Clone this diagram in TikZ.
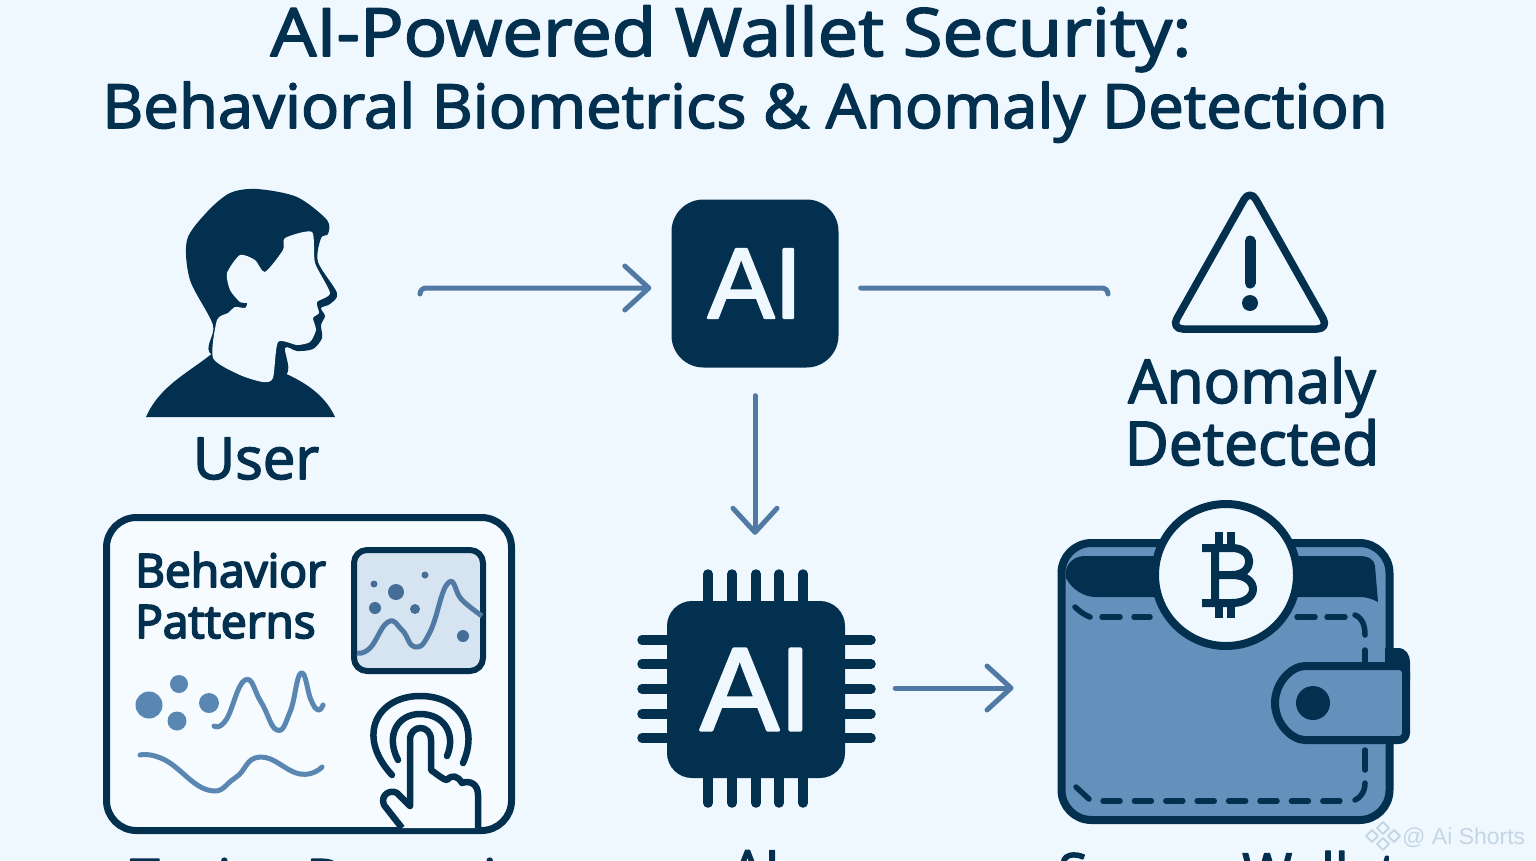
\documentclass[tikz,border=0pt]{standalone}
\usepackage{xcolor}
\usepackage{fontspec}
\usepackage{tikz}
\usetikzlibrary{arrows.meta, positioning}
\setmainfont[FakeBold=2.6]{Open Sans}
\newfontfamily\titlefont[FakeBold=2.6, FakeStretch=1.09]{Open Sans}
\newfontfamily\subtitlefont[FakeBold=2.6, FakeStretch=1.04]{Open Sans}
\newfontfamily\panelfont[FakeBold=4]{Open Sans}
\newfontfamily\chipfont[FakeBold=2.4]{Liberation Sans}
\newfontfamily\markfont{Liberation Sans}
\definecolor{pagebg}{HTML}{F0F8FF}
\definecolor{navy}{HTML}{03304F}
\definecolor{flowblue}{HTML}{5079A4}
\definecolor{walletblue}{HTML}{6491BC}
\definecolor{chartbg}{HTML}{D6E4F2}
\definecolor{markcol}{HTML}{C4D6E6}
\newcommand{\sized}[2]{\fontsize{#1}{#2}\selectfont}

\begin{document}
\begin{tikzpicture}[x=1pt, y=-1pt, line join=round, >={Straight Barb[length=24pt, width=44pt, round]}]
    \tikzstyle{flow} = [draw=flowblue, line width=5pt, line cap=round]
    \tikzstyle{heading} = [text=navy, anchor=base, inner sep=0pt]
    \tikzstyle{caption} = [text=navy, anchor=base, inner sep=0pt, align=center]
    \tikzstyle{pin} = [draw=navy, line width=9.5pt, line cap=round]
    \tikzstyle{ailabel} = [fill=navy, text=pagebg, inner sep=0pt]
    \tikzstyle{ghost} = [inner sep=0pt]
    \tikzstyle{wave} = [draw=walletblue!90!navy, line width=5pt, line cap=round]
    \tikzstyle{dot} = [fill=walletblue!90!navy]
    \tikzstyle{chartdot} = [fill=flowblue!85!navy]
    \tikzstyle{iconline} = [draw=navy, line width=6.5pt, line cap=round]
    \tikzstyle{stitch} = [draw=navy, line width=5.5pt, line cap=round]

    \useasboundingbox (0,0) rectangle (1536,860);
    \fill[pagebg] (0,0) rectangle (1536,860);

    % Title
    \node (titlea) [heading, font=\titlefont\sized{66.5}{66.5}] at (731,56) {AI-Powered Wallet Security:};
    \node (titleb) [heading, font=\subtitlefont\sized{61}{61}] at (745,128) {Behavioral Biometrics \& Anomaly Detection};

    % User
    \node (usericon) [ghost, minimum width=190, minimum height=228] at (240,303) {};
    \fill[navy] plot[smooth cycle, tension=0.5] coordinates {(213,325) (190,280) (187,240) (207,212) (230,193) (257,189) (297,197) (327,220) (328,234) (321,238) (318,262) (337,293) (330,304) (321,308) (325,316) (321,325) (322,338) (313,349) (297,351) (285,348) (284,375) (212,355)};
    \fill[navy] (146,417) .. controls (160,385) and (190,372) .. (214,352) -- (282,372) .. controls (305,382) and (325,395) .. (335,417) -- cycle;
    \fill[pagebg] plot[smooth cycle, tension=0.4] coordinates {(285,238) (312,232) (315,263) (330,293) (317,302) (319,313) (313,318) (316,330) (310,342) (297,345) (278,342) (273,378) (263,382) (240,375) (213,358) (217,320) (228,313) (235,307) (245,308) (247,303) (240,302) (230,290) (227,273) (240,255) (255,260) (265,272) (283,250)};
    \node (userlabel) [caption, font=\sized{58}{58}] at (256,479) {User};

    % AI box
    \node (aibox) [ailabel, rounded corners=32pt, minimum width=167, minimum height=168, font=\chipfont\sized{100}{100}] at (755,283.5) {AI};

    % Alert
    \node (alerticon) [ghost, minimum width=156, minimum height=140] at (1250,262) {};
    \draw[navy, line width=7.5pt, rounded corners=12pt, fill=pagebg] (1250,189) -- (1329,329) -- (1171,329) -- cycle;
    \draw[navy, line width=11pt, line cap=round] (1250,241) -- (1250,283);
    \fill[navy] (1250,303) circle (8);
    \node (alertlabel) [caption, font=\sized{60.5}{62}] at (1252,465) {Anomaly\\Detected};

    % Behavior panel
    \node (panel) [draw=navy, line width=7pt, fill=pagebg!60!white, rounded corners=30pt, minimum width=405, minimum height=313, inner sep=0pt] at (309,674) {};
    \node (paneltext) [caption, align=left, anchor=base west, font=\panelfont\sized{46}{51}] at (135,638) {Behavior\\Patterns};
    \node (chart) [draw=navy, line width=6pt, fill=chartbg, rounded corners=13pt, minimum width=129, minimum height=121, inner sep=0pt] at (418.5,610.5) {};
    \foreach \cx/\cy/\cr in {374/584/3.5, 425/575/3.5, 396/592/8, 375/608/6, 415/609/5, 463/636/6}
        \fill[chartdot] (\cx,\cy) circle (\cr);
    \draw[flow, line cap=butt] plot[smooth, tension=0.8] coordinates {(357,653) (370,648) (388,622) (402,630) (415,647) (430,632) (448,583) (462,600) (482,616)};
    \foreach \cx/\cy/\cr in {149/705/13.5, 179/684/9, 177/721/9.5, 209/703/10}
        \fill[dot] (\cx,\cy) circle (\cr);
    \draw[wave] plot[smooth, tension=0.8] coordinates {(214,726) (226,720) (245,680) (261,702) (277,730) (290,712) (301,673) (311,700) (318,710) (323,705)};
    \draw[wave] plot[smooth, tension=0.8] coordinates {(140,755) (165,760) (208,790) (235,778) (260,757) (300,774) (322,767)};

    % Touch icon
    \draw[iconline] (392,775) .. controls (355,735) and (378,696) .. (420,696) .. controls (462,696) and (478,730) .. (463,763);
    \draw[iconline] (398,760) .. controls (385,735) and (398,714) .. (420,714) .. controls (445,714) and (456,735) .. (447,756);
    \draw[iconline, fill=pagebg!60!white, line cap=butt] (402,828) -- (384,805) .. controls (380,795) and (390,789) .. (397,793) -- (410,806) -- (410,740) .. controls (410,724) and (431,724) .. (431,740) -- (431,770) .. controls (438,775) and (444,780) .. (447,780) .. controls (452,774) and (458,776) .. (462,783) .. controls (470,780) and (478,784) .. (478,795) -- (478,828);

    % Chip
    \foreach \px in {708,732,756,779,803}
        \draw[pin] (\px,574) -- (\px,803);
    \foreach \py in {640,664,689,714,738}
        \draw[pin] (642,\py) -- (871,\py);
    \node (chipcore) [ailabel, rounded corners=25pt, minimum width=178, minimum height=177, font=\chipfont\sized{118}{118}] at (756,689.5) {AI};

    % Wallet
    \node (wallet) [draw=navy, line width=8pt, fill=walletblue, rounded corners=30pt, minimum width=328, minimum height=277, inner sep=0pt] at (1225.5,681.5) {};
    \fill[navy] (1066,578) .. controls (1072,590) and (1085,597) .. (1095,597) -- (1360,597) .. controls (1368,597) and (1374,600) .. (1378,602) -- (1375,566) .. controls (1375,560) and (1368,556) .. (1360,556) -- (1085,556) .. controls (1075,556) and (1068,562) .. (1066,570) -- cycle;
    % Stitching
    \draw[stitch] (1075,607) .. controls (1080,612) and (1085,615) .. (1090,617);
    \draw[stitch, dash pattern=on 18pt off 14pt] (1102,617) -- (1150,617);
    \draw[stitch, dash pattern=on 18pt off 12pt] (1297,617) -- (1345,617);
    \draw[stitch] (1355,615) .. controls (1362,618) and (1365,625) .. (1365,635);
    \draw[stitch] (1365,650) -- (1365,662);
    \draw[stitch] (1365,750) -- (1365,770);
    \draw[stitch] (1365,783) .. controls (1365,792) and (1360,798) .. (1355,800);
    \draw[stitch, dash pattern=on 17pt off 14.4pt] (1103,801) -- (1343,801);
    \draw[stitch] (1076,787) -- (1089,799);
    % Coin and strap
    \node (coin) [draw=navy, line width=8pt, fill=pagebg, circle, minimum size=142, inner sep=0pt] at (1226,575) {};
    \draw[navy, line width=8pt] (1202,548) -- (1232,548) .. controls (1255,548) and (1255,575) .. (1232,575) -- (1215,575) (1232,575) .. controls (1260,575) and (1260,603) .. (1232,603) -- (1202,603) (1215,548) -- (1215,603);
    \draw[navy, line width=8pt] (1219,532) -- (1219,548) (1231,532) -- (1231,548) (1219,603) -- (1219,618) (1231,603) -- (1231,618);
    \fill[navy] (1385,648) -- (1398,648) .. controls (1406,648) and (1410,655) .. (1410,662) -- (1410,680) -- (1385,680) -- cycle;
    \draw[navy, line width=8pt, fill=walletblue, rounded corners=7pt] (1406,666) -- (1406,740) -- (1312,740) arc[start angle=270, end angle=90, radius=37pt] -- cycle;
    \fill[navy] (1313,703) circle (17);

    % Bottom labels
    \node (typinglabel) [caption, anchor=base west, font=\sized{53}{53}] at (130,897) {Typing Dynamics};
    \node (ailabeltext) [caption, font=\sized{54}{54}] at (755,889) {AI};
    \node (walletlabel) [caption, anchor=base west, font=\sized{54}{54}] at (1058,892) {Secure Wallet};

    % Arrows
    \coordinate (userend) at (420,294);
    \coordinate (alertend) at (1108,294);
    \draw[flow, ->, rounded corners=6pt] (userend) |- ([xshift=-20pt, yshift=-4.5pt]aibox.west);
    \draw[flow, rounded corners=6pt] ([xshift=22pt, yshift=-4.5pt]aibox.east) -| (alertend);
    \draw[flow, ->] ([yshift=-28pt]aibox.south) -- ([yshift=66pt, xshift=-1pt]chipcore.north);
    \draw[flow, ->] ([xshift=50pt, yshift=1.5pt]chipcore.east) -- ([xshift=-44pt, yshift=-6.5pt]wallet.west);

    % Watermark
    \node (mark) [text=markcol, anchor=base west, inner sep=0pt, font=\markfont\sized{23}{23}] at (1402,844) {@ Ai Shorts};
    \foreach \mx/\my in {1383/828, 1372/836, 1394/836, 1383/844}
        \draw[markcol, line width=2pt] (\mx-6,\my) -- (\mx,\my-6) -- (\mx+6,\my) -- (\mx,\my+6) -- cycle;
\end{tikzpicture}
\end{document}
